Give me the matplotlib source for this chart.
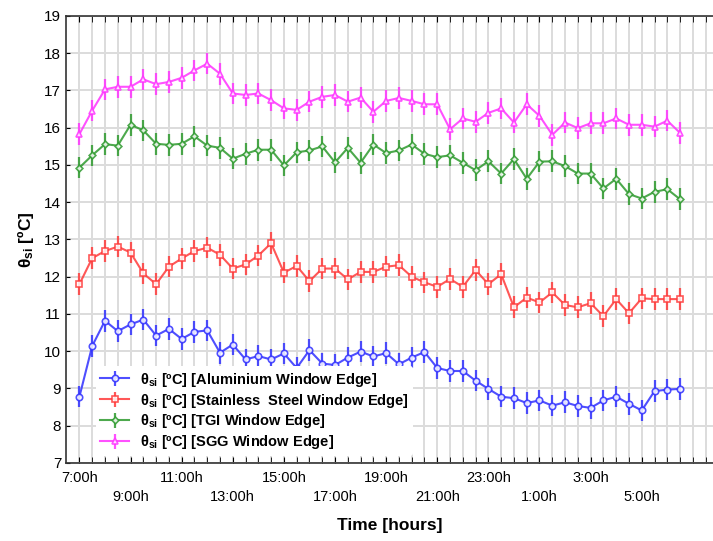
import matplotlib
matplotlib.use("Agg")
import matplotlib.pyplot as plt
import numpy as np

# ---- data ----
time_labels = ["7:00h", "9:00h", "11:00h", "13:00h", "15:00h", "17:00h",
               "19:00h", "21:00h", "23:00h", "1:00h", "3:00h", "5:00h"]
series_names = ["Aluminium Window Edge", "Stainless  Steel Window Edge",
                "TGI Window Edge", "SGG Window Edge"]

aluminium = [8.78, 10.14, 10.82, 10.54, 10.72, 10.85, 10.42, 10.60, 10.33, 10.52,
             10.56, 9.96, 10.18, 9.78, 9.87, 9.78, 9.94, 9.55, 10.03, 9.67,
             9.63, 9.83, 9.99, 9.86, 9.95, 9.65, 9.83, 9.98, 9.55, 9.47,
             9.47, 9.21, 8.99, 8.78, 8.74, 8.61, 8.68, 8.54, 8.63, 8.53,
             8.48, 8.68, 8.78, 8.59, 8.41, 8.93, 8.97, 8.99]
stainless = [11.80, 12.50, 12.69, 12.81, 12.65, 12.09, 11.80, 12.27, 12.49, 12.69,
             12.78, 12.59, 12.22, 12.33, 12.57, 12.90, 12.11, 12.29, 11.88, 12.22,
             12.22, 11.93, 12.13, 12.13, 12.27, 12.31, 12.00, 11.85, 11.73, 11.94,
             11.73, 12.18, 11.80, 12.07, 11.18, 11.44, 11.31, 11.58, 11.24, 11.18,
             11.29, 10.94, 11.40, 11.02, 11.42, 11.40, 11.40, 11.40]
tgi = [14.93, 15.26, 15.56, 15.52, 16.08, 15.93, 15.57, 15.54, 15.57, 15.77,
       15.52, 15.46, 15.17, 15.30, 15.41, 15.41, 14.99, 15.34, 15.39, 15.50,
       15.07, 15.46, 15.06, 15.55, 15.32, 15.39, 15.55, 15.30, 15.21, 15.26,
       15.06, 14.86, 15.10, 14.77, 15.16, 14.63, 15.09, 15.10, 14.97, 14.77,
       14.77, 14.37, 14.63, 14.22, 14.10, 14.28, 14.35, 14.08]
sgg = [15.83, 16.46, 17.03, 17.10, 17.10, 17.30, 17.17, 17.23, 17.34, 17.54,
       17.72, 17.45, 16.92, 16.88, 16.92, 16.74, 16.52, 16.48, 16.70, 16.83,
       16.88, 16.70, 16.81, 16.43, 16.72, 16.80, 16.72, 16.63, 16.63, 15.96,
       16.25, 16.16, 16.40, 16.52, 16.14, 16.63, 16.32, 15.81, 16.14, 15.99,
       16.12, 16.12, 16.25, 16.08, 16.08, 16.03, 16.19, 15.86]
error_half = [0.29, 0.29, 0.29, 0.29]

# ---- style ----
plt.rcParams['font.family'] = ['Liberation Sans', 'DejaVu Sans']
plt.rcParams['mathtext.fontset'] = 'custom'
plt.rcParams['mathtext.rm'] = 'Liberation Sans:bold'
plt.rcParams['mathtext.it'] = 'Liberation Sans:bold'
plt.rcParams['mathtext.bf'] = 'Liberation Sans:bold'

colors = ['#3030ff', '#ff3a3a', '#2e9a2e', '#ff33ff']
markers = ['o', 's', 'D', '^']
msizes = [4.6, 4.6, 3.4, 4.6]

fig = plt.figure(figsize=(7.13, 5.41), dpi=100)
ax = fig.add_axes([66/713, 1-463/541, 647/713, 447/541])

x = np.arange(len(aluminium))
all_series = [aluminium, stainless, tgi, sgg]
handles = []
for vals, name, c, m, ms, e in zip(all_series, series_names, colors, markers, msizes, error_half):
    h = ax.errorbar(x, vals, yerr=e, color=c, marker=m, markersize=ms,
                    markerfacecolor='white', markeredgecolor=c, markeredgewidth=1.2,
                    linewidth=1.5, elinewidth=1.6, capsize=0, alpha=0.85,
                    label=r"θ$_{\mathrm{si}}$ [ºC] [" + name + "]", zorder=3)
    handles.append(h)

ax.set_xlim(-1.05, -1.05 + 647/12.78)
ax.set_ylim(7, 19)
ax.set_yticks(np.arange(7, 20, 1))
ax.set_xticks(np.arange(0, len(aluminium) + 2, 1), minor=True)
major_pos = np.arange(0, 4 * len(time_labels), 4)
ax.set_xticks(major_pos)
ax.set_xticklabels([("" if i % 2 == 0 else "\n") + lab for i, lab in enumerate(time_labels)],
                   fontsize=10.5, linespacing=1.45)
ax.tick_params(axis='x', which='both', direction='in', top=True, length=4, pad=6)
ax.tick_params(axis='y', direction='in', length=3, labelsize=11)

ax.grid(True, which='minor', axis='x', color='#dcdcdc', linewidth=1.4, zorder=0)
ax.grid(True, which='major', axis='both', color='#dcdcdc', linewidth=1.4, zorder=0)
ax.set_axisbelow(True)
ax.spines['right'].set_visible(False)
for s in ['left', 'bottom', 'top']:
    ax.spines[s].set_color('#333333')
    ax.spines[s].set_linewidth(1.2)

ax.set_xlabel("Time [hours]", fontsize=12.5, fontweight='bold', labelpad=10)
ax.set_ylabel(r"θ$_{\mathrm{si}}$ [ºC]", fontsize=12.5, fontweight='bold', labelpad=6)

leg = ax.legend(handles=handles, loc='lower left', bbox_to_anchor=(0.035, 0.0),
                frameon=True, facecolor='white', edgecolor='none', framealpha=1,
                prop={'weight': 'bold', 'size': 10.5}, handlelength=2.0,
                labelspacing=0.2, borderpad=0.3, handletextpad=0.7)

fig.savefig("out.png", dpi=100)
